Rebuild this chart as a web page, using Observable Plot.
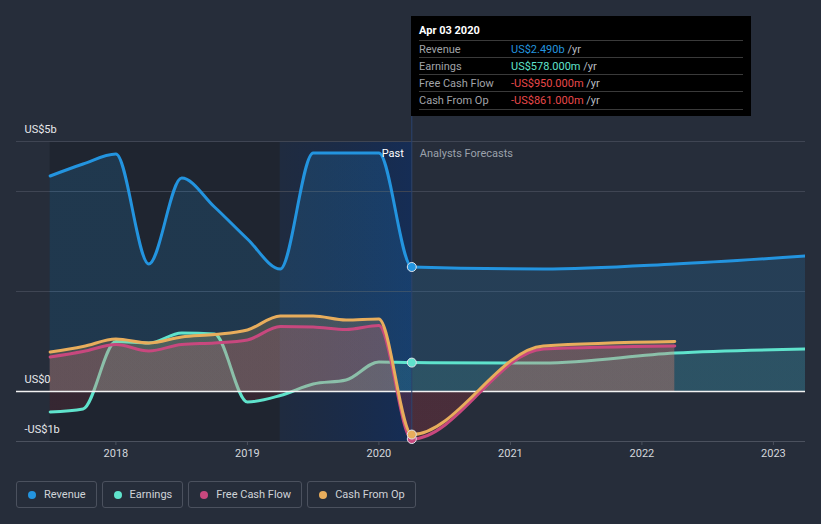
<!DOCTYPE html>
<html><head><meta charset="utf-8">
<script src="https://cdn.jsdelivr.net/npm/d3@7"></script>
<script src="https://cdn.jsdelivr.net/npm/@observablehq/plot@0.6"></script>
<style>
body{margin:0;background:#262d3a;font-family:Roboto,"Open Sans",sans-serif;}
#wrap{position:relative;width:821px;height:524px;overflow:hidden;background:#262d3a;}
#chart{position:absolute;left:0;top:0;}
#tip{position:absolute;left:411px;top:16px;width:340px;height:100px;background:#000;}
#tip .t{position:absolute;left:8px;top:8px;color:#fff;font-weight:bold;font-size:11px;line-height:14px;}
#tip .row{position:absolute;left:8px;width:324px;height:17px;border-top:1px solid #3a3a3a;font-size:11px;line-height:17px;}
#tip .row.last{border-bottom:1px solid #3a3a3a;}
#tip .lab{position:absolute;left:0;color:#a0a3a8;}
#tip .val{position:absolute;left:92px;white-space:nowrap;}
#tip .unit{color:#b8bbc0;}
#legend{position:absolute;left:16px;top:481px;display:flex;gap:5px;}
#legend .item{box-sizing:border-box;height:27px;border:1px solid #4b515e;border-radius:3px;padding:0 10px 0 11px;display:flex;align-items:center;font-size:11px;color:#d0d3d8;}
#legend .dot{width:8px;height:8px;border-radius:50%;margin-right:8px;}
</style></head><body>
<div id="wrap"><div id="chart"></div><div id="tip"></div><div id="legend"></div></div>
<script>
// ---- data (US$ billions, decimal years) ----
const seriesNames = ["Revenue", "Earnings", "Free Cash Flow", "Cash From Op"];
const seriesColors = ["#2394df", "#5fe3cc", "#c8487e", "#e8ad5c"];
const pastDates = [2017.5, 2017.75, 2018, 2018.25, 2018.5, 2018.75, 2019, 2019.25, 2019.5, 2019.75, 2020, 2020.25];
const forecastDates = [2021.25, 2022.25, 2023.25];
const revenuePast = [4.31, 4.55, 4.75, 2.55, 4.27, 3.69, 3.05, 2.45, 4.77, 4.77, 4.77, 2.49];
const earningsPast = [-0.41, -0.35, 1.0, 0.97, 1.17, 1.15, -0.21, -0.08, 0.15, 0.23, 0.59, 0.578];
const fcfPast = [0.69, 0.80, 0.94, 0.81, 0.94, 0.97, 1.03, 1.30, 1.29, 1.24, 1.32, -0.95];
const cfoPast = [0.79, 0.90, 1.05, 0.97, 1.09, 1.14, 1.23, 1.51, 1.51, 1.43, 1.45, -0.861];
const revenueForecast = [2.45, 2.55, 2.71];
const earningsForecast = [0.57, 0.77, 0.85];
const fcfForecast = [0.85, 0.91];
const cfoForecast = [0.91, 1.00];
const gridValues = [2, 4, 5];
const yLabels = [{v: 5, t: "US$5b"}, {v: 0, t: "US$0"}, {v: -1, t: "-US$1b"}];
const xTicks = [2018, 2019, 2020, 2021, 2022, 2023];
const tipDate = "Apr 03 2020";
const tipValues = ["US$2.490b", "US$578.000m", "-US$950.000m", "-US$861.000m"];

// ---- build tables ----
function build(past, fc) {
  const rows = past.map((v, i) => ({date: pastDates[i], value: v}));
  fc.forEach((v, i) => rows.push({date: forecastDates[i], value: v}));
  return rows;
}
const revenue = build(revenuePast, revenueForecast);
const earnings = build(earningsPast, earningsForecast);
const fcf = build(fcfPast, fcfForecast);
const cfo = build(cfoPast, cfoForecast);
const nowDate = pastDates[pastDates.length - 1];
const nowPoints = [revenuePast, earningsPast, fcfPast, cfoPast].map((arr, i) => ({date: nowDate, value: arr[arr.length - 1], color: seriesColors[i]}));

const curve = "monotone-x";
const area = (data, id) => Plot.areaY(data, {x: "date", y1: 0, y2: "value", curve, fill: `url(#${id})`, clip: true});
const line = (data, c) => Plot.line(data, {x: "date", y: "value", curve, stroke: c, strokeWidth: 3, clip: true});

const plot = Plot.plot({
  width: 821, height: 470,
  marginTop: 141, marginBottom: 29, marginLeft: 16, marginRight: 16,
  style: {background: "transparent", color: "#d4d7dc", fontFamily: "Roboto, sans-serif", fontSize: "11px"},
  x: {domain: [2017.244, 2023.244], ticks: xTicks, tickFormat: d3.format("d"), tickSize: 0, tickPadding: 8, label: null},
  y: {domain: [-1, 5], axis: null},
  marks: [
    Plot.rect([{x1: pastDates[0], x2: 2019.25}], {x1: "x1", x2: "x2", y1: -1, y2: 5, fill: "#000", fillOpacity: 0.17}),
    Plot.rect([{x1: 2019.25, x2: nowDate}], {x1: "x1", x2: "x2", y1: -1, y2: 5, fill: "url(#bandGrad)"}),
    Plot.ruleY(gridValues, {stroke: "#3f4553", strokeWidth: 1}),
    area(revenue, "gRev"),
    area(earnings, "gEarn"),
    line(earnings, seriesColors[1]),
    area(fcf, "gFcf"),
    area(cfo, "gCfo"),
    Plot.ruleY([0], {stroke: "#f2f2f2", strokeWidth: 1.5}),
    Plot.ruleY([-1], {stroke: "#4b515e", strokeWidth: 1}),
    Plot.ruleX(xTicks, {y1: -1, y2: -1.08, stroke: "#4b515e"}),
    Plot.ruleX([nowDate], {y1: -1, y2: 7.5, stroke: "#2b4470", strokeWidth: 1}),
    line(revenue, seriesColors[0]),
    line(fcf, seriesColors[2]),
    line(cfo, seriesColors[3]),
    Plot.dot(nowPoints, {x: "date", y: "value", r: 4.5, fill: "color", stroke: "#dfe3ea", strokeWidth: 1}),
    Plot.text(yLabels, {y: "v", text: "t", frameAnchor: "left", dx: 8, dy: -12, textAnchor: "start", fill: "#e6e8eb", fontSize: 11}),
    Plot.text(["Past"], {x: nowDate, frameAnchor: "top", dy: 8, dx: -8, textAnchor: "end", fill: "#ffffff", fontSize: 11}),
    Plot.text(["Analysts Forecasts"], {x: nowDate, frameAnchor: "top", dy: 8, dx: 8, textAnchor: "start", fill: "#9ba1ab", fontSize: 11})
  ]
});

// gradients (split at zero using the y scale)
const ys = plot.scale("y");
const yTop = ys.apply(5), yBot = ys.apply(-1), y0 = ys.apply(0);
const f = (y0 - yTop) / (yBot - yTop);
const ns = "http://www.w3.org/2000/svg";
const svg = plot.tagName.toLowerCase() === "svg" ? plot : plot.querySelector("svg");
const defs = document.createElementNS(ns, "defs");
function grad(id, color, a, neg, b) {
  const g = document.createElementNS(ns, "linearGradient");
  g.setAttribute("id", id);
  g.setAttribute("gradientUnits", "userSpaceOnUse");
  g.setAttribute("x1", 0); g.setAttribute("x2", 0);
  g.setAttribute("y1", yTop); g.setAttribute("y2", yBot);
  [[0, color, a], [f, color, a], [f, neg, b], [1, neg, b]].forEach(([o, c, op]) => {
    const s = document.createElementNS(ns, "stop");
    s.setAttribute("offset", o); s.setAttribute("stop-color", c); s.setAttribute("stop-opacity", op);
    g.appendChild(s);
  });
  defs.appendChild(g);
}
grad("gRev", seriesColors[0], 0.17, seriesColors[0], 0.0);
grad("gEarn", seriesColors[1], 0.12, "#c2323f", 0.14);
grad("gFcf", seriesColors[2], 0.2, "#b8303c", 0.13);
grad("gCfo", seriesColors[3], 0.2, "#b8303c", 0.13);
const bg = document.createElementNS(ns, "linearGradient");
bg.setAttribute("id", "bandGrad");
[[0, "#0b2550", 0.25], [1, "#0b2d66", 0.62]].forEach(([o, c, op]) => {
  const s = document.createElementNS(ns, "stop");
  s.setAttribute("offset", o); s.setAttribute("stop-color", c); s.setAttribute("stop-opacity", op);
  bg.appendChild(s);
});
defs.appendChild(bg);
svg.insertBefore(defs, svg.firstChild);
document.getElementById("chart").appendChild(plot);

// tooltip
const tip = document.getElementById("tip");
tip.innerHTML = `<div class="t">${tipDate}</div>`;
const valColors = [seriesColors[0], "#5fe3cc", "#e8494b", "#e8494b"];
seriesNames.forEach((n, i) => {
  const r = document.createElement("div");
  r.className = "row" + (i === seriesNames.length - 1 ? " last" : "");
  r.style.top = (24 + i * 17) + "px";
  r.innerHTML = `<span class="lab">${n}</span><span class="val"><span style="color:${valColors[i]}">${tipValues[i]}</span><span class="unit"> /yr</span></span>`;
  tip.appendChild(r);
});

// legend
const lg = document.getElementById("legend");
seriesNames.forEach((n, i) => {
  const it = document.createElement("div");
  it.className = "item";
  it.innerHTML = `<span class="dot" style="background:${seriesColors[i]}"></span><span>${n}</span>`;
  lg.appendChild(it);
});
</script>
</body></html>
